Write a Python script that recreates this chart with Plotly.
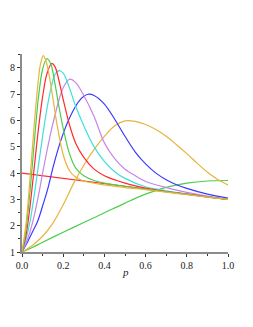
import plotly.graph_objects as go

# Curve data (p -> value)
p_line = [0.0, 0.5, 1.0]
y_line = [4.0, 3.5, 3.0]

p_n1 = [0.0, 0.05, 0.1, 0.2, 0.3, 0.4, 0.5, 0.6, 0.7, 0.8, 0.9, 1.0]
y_n1 = [1.0, 1.17, 1.37, 1.75, 2.12, 2.49, 2.86, 3.2, 3.46, 3.62, 3.7, 3.72]

p_n2 = [0.0, 0.05, 0.1, 0.15, 0.2, 0.25, 0.3, 0.35, 0.4, 0.45, 0.5, 0.55, 0.6, 0.65, 0.7, 0.75, 0.8, 0.85, 0.9, 0.95, 1.0]
y_n2 = [1.0, 1.25, 1.6, 2.1, 2.8, 3.6, 4.3, 4.9, 5.4, 5.8, 5.99, 5.97, 5.85, 5.66, 5.4, 5.08, 4.74, 4.38, 4.03, 3.76, 3.55]

p_n3 = [0.0, 0.025, 0.05, 0.075, 0.1, 0.125, 0.15, 0.175, 0.2, 0.225, 0.25, 0.275, 0.3, 0.32, 0.35, 0.4, 0.45, 0.5, 0.55, 0.6, 0.65, 0.7, 0.75, 0.8, 0.9, 1.0]
y_n3 = [1.0, 1.35, 1.75, 2.15, 2.75, 3.4, 4.2, 4.9, 5.5, 6.0, 6.4, 6.72, 6.92, 7.0, 6.95, 6.62, 6.05, 5.4, 4.8, 4.35, 4.0, 3.75, 3.56, 3.42, 3.2, 3.05]

p_n4 = [0.0, 0.02, 0.04, 0.06, 0.08, 0.1, 0.12, 0.14, 0.16, 0.18, 0.2, 0.23, 0.26, 0.3, 0.35, 0.4, 0.45, 0.5, 0.55, 0.6, 0.7, 0.8, 0.9, 1.0]
y_n4 = [1.0, 1.35, 1.8, 2.4, 3.15, 4.0, 4.8, 5.55, 6.2, 6.8, 7.25, 7.57, 7.45, 6.95, 6.15, 5.15, 4.55, 4.15, 3.9, 3.68, 3.45, 3.27, 3.13, 3.0]

p_n5 = [0.0, 0.02, 0.04, 0.06, 0.08, 0.1, 0.12, 0.14, 0.16, 0.18, 0.2, 0.23, 0.26, 0.3, 0.35, 0.4, 0.45, 0.5, 0.6, 0.7, 0.8, 0.9, 1.0]
y_n5 = [1.0, 1.5, 2.2, 3.2, 4.3, 5.4, 6.4, 7.2, 7.75, 7.9, 7.8, 7.25, 6.55, 5.8, 5.0, 4.45, 4.05, 3.8, 3.48, 3.33, 3.21, 3.1, 3.0]

p_n6 = [0.0, 0.02, 0.04, 0.06, 0.08, 0.1, 0.12, 0.144, 0.16, 0.18, 0.2, 0.23, 0.26, 0.3, 0.35, 0.4, 0.5, 0.6, 0.7, 0.8, 0.9, 1.0]
y_n6 = [1.0, 1.65, 2.8, 4.25, 5.7, 6.9, 7.75, 8.17, 8.05, 7.5, 6.8, 5.85, 5.15, 4.6, 4.15, 3.9, 3.62, 3.43, 3.3, 3.2, 3.1, 3.0]

p_n7 = [0.0, 0.02, 0.04, 0.06, 0.08, 0.1, 0.12, 0.14, 0.16, 0.18, 0.2, 0.23, 0.26, 0.3, 0.35, 0.4, 0.5, 0.6, 0.7, 0.8, 0.9, 1.0]
y_n7 = [1.0, 1.9, 3.4, 5.2, 6.9, 7.95, 8.35, 8.15, 7.4, 6.5, 5.7, 4.75, 4.2, 3.9, 3.72, 3.62, 3.5, 3.39, 3.29, 3.19, 3.09, 3.0]

p_n8 = [0.0, 0.02, 0.04, 0.06, 0.08, 0.09, 0.103, 0.115, 0.13, 0.15, 0.17, 0.2, 0.23, 0.26, 0.3, 0.4, 0.5, 0.6, 0.7, 0.8, 0.9, 1.0]
y_n8 = [1.0, 2.1, 3.9, 5.9, 7.6, 8.15, 8.47, 8.3, 7.8, 6.85, 5.85, 4.7, 4.1, 3.85, 3.7, 3.55, 3.45, 3.37, 3.28, 3.18, 3.09, 3.0]

series = [
    (p_line, y_line, "#ff2a2a"),
    (p_n1, y_n1, "#4ccd4c"),
    (p_n2, y_n2, "#e8b43c"),
    (p_n3, y_n3, "#3a3aff"),
    (p_n4, y_n4, "#c785e8"),
    (p_n5, y_n5, "#40dede"),
    (p_n6, y_n6, "#ff2a2a"),
    (p_n7, y_n7, "#4ccd4c"),
    (p_n8, y_n8, "#e8b43c"),
]

x_ticks = [0.0, 0.2, 0.4, 0.6, 0.8, 1.0]
x_labels = ["0.0", "0.2", "0.4", "0.6", "0.8", "1.0"]
y_ticks = [1, 2, 3, 4, 5, 6, 7, 8]
x_title = "p"

fig = go.Figure()
for px, py, col in series:
    fig.add_trace(go.Scatter(x=px, y=py, mode="lines",
                             line=dict(color=col, width=1.2, shape="spline", smoothing=0.9),
                             showlegend=False, hoverinfo="skip"))

font = dict(family="Liberation Serif, serif", size=10, color="#222222")
fig.update_layout(
    width=253, height=327,
    margin=dict(l=14, r=33, t=46, b=83, autoexpand=False),
    paper_bgcolor="white", plot_bgcolor="white",
    font=font,
    xaxis=dict(range=[0, 1], tickvals=x_ticks, ticktext=x_labels, automargin=False,
               showline=True, linecolor="#8c8c8c", linewidth=2,
               ticks="outside", ticklen=3, tickcolor="#333333", tickwidth=1,
               minor=dict(dtick=0.1, ticks="outside", ticklen=2, tickcolor="#333333"),
               showgrid=False, zeroline=False, tickfont=font),
    yaxis=dict(range=[1, 8.53], tickvals=y_ticks, automargin=False,
               showline=True, linecolor="#8c8c8c", linewidth=2,
               ticks="outside", ticklen=3, tickcolor="#333333", tickwidth=1,
               minor=dict(dtick=0.5, ticks="outside", ticklen=2, tickcolor="#333333"),
               showgrid=False, zeroline=False, tickfont=font),
    annotations=[dict(text="<i>" + x_title + "</i>", xref="paper", yref="paper",
                      x=0.5, y=0, yshift=-20, xanchor="center", yanchor="middle",
                      showarrow=False,
                      font=dict(family="Liberation Serif, serif", size=11, color="#222222"))],
)

fig.write_html("out.html")
